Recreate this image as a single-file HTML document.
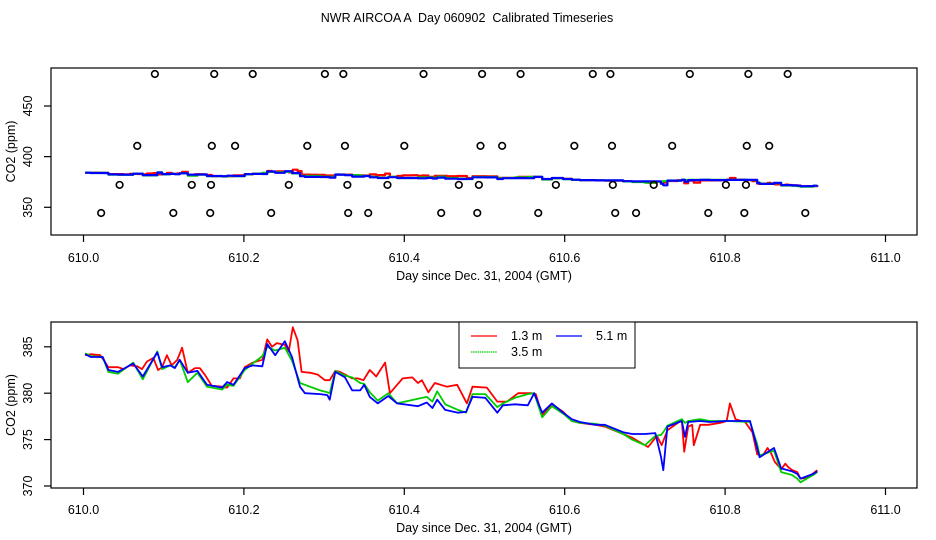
<!DOCTYPE html>
<html><head><meta charset="utf-8"><style>
html,body{margin:0;padding:0;background:#fff;}
svg{display:block;font-family:"Liberation Sans",Arial,sans-serif;}
</style></head><body>
<svg id="chart" width="936" height="540" viewBox="0 0 936 540" xmlns="http://www.w3.org/2000/svg">
<text x="467" y="22" text-anchor="middle" font-size="12.5" style="white-space:pre" xml:space="preserve">NWR AIRCOA A  Day 060902  Calibrated Timeseries</text>
<g id="top"></g>
<g id="bot"></g>
</svg>
<script>
// ---- data ----
const xTicks = [610.0, 610.2, 610.4, 610.6, 610.8, 611.0];
const xTickLabels = ["610.0", "610.2", "610.4", "610.6", "610.8", "611.0"];
const topYTicks = [350, 400, 450];
const botYTicks = [370, 375, 380, 385];
const seriesNames = ["1.3 m", "3.5 m", "5.1 m"];
const seriesColors = ["#ff0000", "#00cc00", "#0000ff"];

const blueTimes = [.002,.009,.024,.031,.043,.062,.074,.092,.098,.108,.114,.120,.130,.142,.154,.173,.179,.187,.201,.211,.223,.229,.239,.251,.260,.270,.276,.295,.304,.307,.314,.326,.335,.345,.350,.357,.367,.380,.391,.417,.428,.435,.441,.451,.467,.477,.485,.501,.516,.523,.538,.554,.562,.572,.584,.598,.609,.619,.638,.650,.673,.684,.700,.713,.720,.723,.728,.746,.750,.754,.769,.781,.802,.831,.840,.843,.861,.870,.883,.890,.894,.910,.915];
const blueValues = [384.2,383.9,383.9,382.5,382.3,383.2,381.8,384.4,382.8,383.0,382.7,383.6,382.2,382.4,380.9,380.6,381.2,380.9,382.7,383.0,382.9,385.3,384.1,385.6,383.9,380.7,380.0,379.9,379.8,379.3,382.3,381.7,380.3,380.3,380.9,379.6,378.9,379.7,378.9,378.6,379.0,378.4,379.3,378.2,377.9,378.0,379.6,379.5,377.9,378.7,378.8,378.7,380.0,377.9,378.9,377.9,377.2,376.9,376.6,376.6,375.8,375.6,375.6,375.7,373.2,371.7,376.4,377.0,375.3,376.9,377.0,376.9,377.0,377.0,374.1,373.1,374.1,371.9,371.6,371.3,370.8,371.3,371.6];
const greenTimes = blueTimes.slice();
const greenValues = [384.3,384.0,383.9,382.3,382.1,383.3,381.5,384.5,382.6,383.0,382.8,383.6,381.2,382.2,380.7,380.4,380.9,380.8,382.5,383.2,384.0,385.0,384.6,384.9,383.5,381.1,380.9,380.3,380.1,380.0,382.4,381.9,381.7,381.1,381.0,380.1,379.2,380.0,378.9,379.4,379.6,379.1,380.2,378.8,378.2,377.9,379.9,379.9,378.5,378.9,379.5,379.9,380.0,377.4,378.6,377.8,377.0,376.8,376.7,376.5,375.6,375.0,374.4,375.4,375.5,375.8,376.5,377.2,376.8,377.0,377.2,377.0,377.0,376.9,374.5,373.3,373.8,371.5,371.2,370.8,370.4,371.2,371.5];
const redTimes = [.002,.009,.021,.031,.043,.050,.058,.067,.073,.079,.087,.093,.098,.104,.110,.117,.123,.130,.139,.145,.152,.160,.173,.179,.187,.195,.201,.211,.223,.229,.235,.241,.251,.256,.261,.267,.272,.283,.292,.301,.307,.314,.320,.335,.342,.349,.357,.365,.376,.382,.391,.398,.410,.417,.422,.430,.438,.453,.466,.478,.485,.503,.516,.528,.542,.559,.564,.572,.584,.598,.609,.619,.638,.650,.673,.684,.704,.715,.721,.728,.741,.746,.749,.754,.759,.761,.769,.779,.794,.802,.806,.813,.825,.834,.840,.847,.853,.857,.862,.870,.875,.879,.884,.890,.894,.903,.915];
const redValues = [384.1,384.2,384.1,382.8,382.8,382.6,383.0,382.9,382.6,383.4,383.8,382.5,382.8,384.1,383.0,383.6,384.9,382.2,382.7,382.7,381.9,380.8,380.7,380.6,381.6,381.6,382.8,383.3,383.6,385.8,385.0,385.4,385.2,384.5,387.1,385.7,382.3,382.2,382.0,381.4,381.4,382.4,382.3,381.6,381.6,381.4,382.5,381.8,383.3,380.0,380.9,381.6,381.7,381.1,381.4,380.1,381.1,380.7,380.9,378.9,380.7,380.6,379.1,379.1,380.0,380.0,379.9,377.6,378.8,378.0,377.0,376.8,376.6,376.4,375.6,375.2,374.2,375.4,374.4,376.0,376.8,377.1,373.7,376.4,376.6,374.4,376.6,376.6,376.8,377.0,378.9,377.2,376.9,375.8,373.4,373.3,374.1,373.6,372.6,371.8,372.4,372.0,371.7,371.5,370.8,370.9,371.7];

const flagTimes = [.089,.163,.211,.301,.324,.424,.497,.545,.635,.657,.756,.829,.878,
 .067,.160,.189,.279,.326,.400,.495,.522,.612,.659,.734,.827,.855,
 .045,.135,.159,.256,.329,.379,.468,.493,.589,.660,.711,.801,.826,
 .022,.112,.158,.234,.330,.355,.446,.491,.567,.663,.689,.779,.824,.900];
const flagValues = [481.6,481.6,481.6,481.6,481.6,481.6,481.6,481.6,481.6,481.6,481.6,481.6,481.6,
 410.6,410.6,410.6,410.6,410.6,410.6,410.6,410.6,410.6,410.6,410.6,410.6,410.6,
 372.1,372.1,372.1,372.1,372.1,372.1,372.1,372.1,372.1,372.1,372.1,372.1,372.1,
 344.4,344.4,344.4,344.4,344.4,344.4,344.4,344.4,344.4,344.4,344.4,344.4,344.4,344.4];

// ---- scales ----
const NS = "http://www.w3.org/2000/svg";
const X0 = 83.5, XPD = 802;
function xs(d){ return X0 + (d - 610) * XPD; }
function xsRel(t){ return X0 + t * XPD; }
function ysTop(v){ return 207.3 - (v - 350) * 1.013; }
function ysBot(v){ return 486 - (v - 370) * 9.28; }

function mk(tag, attrs, parent){
  const e = document.createElementNS(NS, tag);
  for (const k in attrs) e.setAttribute(k, attrs[k]);
  parent.appendChild(e);
  return e;
}

function panel(g, box, ys, yTicks, stepped, xlabY, tickLblY){
  const r = mk('rect', {x:box[0], y:box[1], width:box[2]-box[0], height:box[3]-box[1], fill:'none', stroke:'#000', 'stroke-width':1.2}, g);
  
  
  const xa = mk('line', {x1:xs(xTicks[0]), x2:xs(xTicks[xTicks.length-1]), y1:box[3], y2:box[3], stroke:'#000'}, g);
  
  
  xTicks.forEach((t, i) => {
    const l = mk('line', {x1:xs(t), x2:xs(t), y1:box[3], y2:box[3]+7, stroke:'#000', 'stroke-width':1.2}, g);
    
    
    const tx = mk('text', {x:xs(t), y:tickLblY, 'text-anchor':'middle', 'font-size':12.5}, g);
    tx.textContent = xTickLabels[i];
    
    
  });
  const xt = mk('text', {x:484, y:xlabY, 'text-anchor':'middle', 'font-size':12.5}, g);
  xt.textContent = 'Day since Dec. 31, 2004 (GMT)';
  
  
  yTicks.forEach(v => {
    const l = mk('line', {x1:box[0]-7, x2:box[0], y1:ys(v), y2:ys(v), stroke:'#000', 'stroke-width':1.2}, g);
    
    
    const tx = mk('text', {x:0, y:0, 'text-anchor':'middle', 'font-size':12.5, transform:`translate(32,${ys(v)}) rotate(-90)`}, g);
    tx.textContent = String(v);
    
    
  });
  const ya = mk('line', {x1:box[0], x2:box[0], y1:ys(yTicks[0]), y2:ys(yTicks[yTicks.length-1]), stroke:'#000'}, g);
  
  
  const yt = mk('text', {x:0, y:0, 'text-anchor':'middle', 'font-size':12.5, transform:`translate(15,${(box[1]+box[3])/2}) rotate(-90)`}, g);
  yt.textContent = 'CO2 (ppm)';
  
  
  const sets = [[redTimes, redValues], [greenTimes, greenValues], [blueTimes, blueValues]];
  sets.forEach((s, si) => {
    let d = '';
    s[0].forEach((t, i) => {
      const px = xsRel(t), py = ys(s[1][i]);
      if (i === 0) d += `M${px.toFixed(1)},${py.toFixed(1)}`;
      else if (stepped) d += `H${px.toFixed(1)}V${py.toFixed(1)}`;
      else d += `L${px.toFixed(1)},${py.toFixed(1)}`;
    });
    const p = mk('path', {d:d, fill:'none', stroke:seriesColors[si], 'stroke-width':stepped ? 2.2 : 1.8, 'stroke-linejoin':'round'}, g);
    
    
  });
}

const topG = document.getElementById('top');
panel(topG, [51, 68, 917, 235], ysTop, topYTicks, true, 280, 262);
flagTimes.forEach((t, i) => {
  const c = mk('circle', {cx:xsRel(t), cy:ysTop(flagValues[i]), r:3.3, fill:'none', stroke:'#000', 'stroke-width':1.6}, topG);
  
  
});

const botG = document.getElementById('bot');
panel(botG, [51, 322, 917, 488], ysBot, botYTicks, false, 532, 514);

const lg = mk('g', {}, botG);


const lr = mk('rect', {x:459, y:322, width:176, height:46, fill:'#fff', stroke:'#000', 'stroke-width':1}, lg);


const legPos = [[471, 336], [471, 352], [556, 336]];
seriesNames.forEach((n, i) => {
  const l = mk('line', {x1:legPos[i][0], x2:legPos[i][0]+26, y1:legPos[i][1], y2:legPos[i][1], stroke:seriesColors[i], 'stroke-width':1.2, 'stroke-dasharray': i === 1 ? '1.5,0.7' : 'none'}, lg);
  
  
  const t = mk('text', {x:legPos[i][0]+40, y:legPos[i][1]+4, 'font-size':12.5}, lg);
  t.textContent = n;
  
  
});
</script>
</body></html>
